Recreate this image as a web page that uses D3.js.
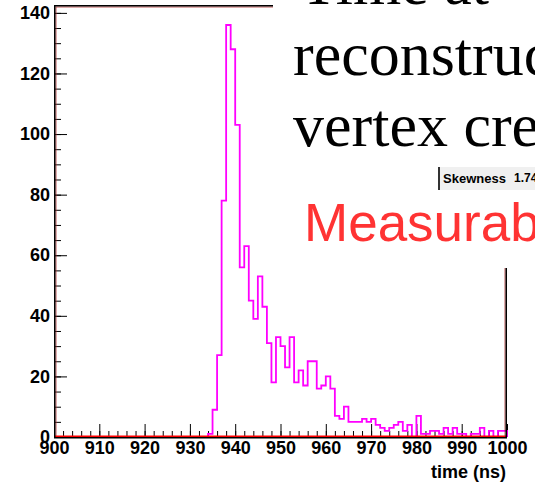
<html>
  <head>
    <script src="https://d3js.org/d3.v7.min.js"></script>
    <style>
      body { margin: 0; background: white; }
      svg { display: block; }
    </style>
  </head>
  <body>
    <script>
      // histogram: 1 ns bins from 900 to 1000, counts
      var binStart = 900;
      var binWidth = 1;
      var counts = [
        0,0,0,0,0,0,0,0,0,0,   // 900-909
        0,0,0,0,0,0,0,0,0,0,   // 910-919
        0,0,0,0,0,0,0,0,0,0,   // 920-929
        0,0,0,0,1,9,27,78,136,128,   // 930-939
        103,56,63,45,39,53,43,31,18,33,   // 940-949
        30,23,33,18,22,17,25,25,16,17,   // 950-959
        20,16,7,6,10,5,5,5,6,5,   // 960-969
        6,4,3,2,3,4,5,2,4,0,   // 970-979
        7,1,1,2,2,1,3,1,3,1,   // 980-989
        1,0,1,1,3,0,2,0,2,2    // 990-999
      ];
      var xMajorTicks = [900, 910, 920, 930, 940, 950, 960, 970, 980, 990, 1000];
      var yMajorTicks = [0, 20, 40, 60, 80, 100, 120, 140];
      var titleLines = ["Time at", "reconstructed", "vertex creation"];
      var statLabel = "Skewness";
      var statValue = "1.74";
      var noteText = "Measurable";

      var width = 535, height = 485;
      // frame edges (avoid the name "top", it is window.top)
      var fLeft = 54, fRight = 507, fTop = 5, fBottom = 437;

      var svg = d3.select("body").append("svg")
                  .attr("width", width).attr("height", height);

      var x = d3.scaleLinear().domain([900, 1000]).range([fLeft, fRight]);
      var y = d3.scaleLinear().domain([0, 142.6]).range([fBottom, fTop]);

      //Minor ticks
      var xMinor = d3.range(900, 1001, 2);
      var yMinor = d3.range(0, 141, 5);

      svg.append("g").attr("transform", "translate(0," + fBottom + ")")
         .call(d3.axisBottom(x).tickValues(xMinor).tickSize(-6).tickFormat(""))
         .call(function(g) { g.select(".domain").remove(); });
      svg.append("g").attr("transform", "translate(" + fLeft + ",0)")
         .call(d3.axisLeft(y).tickValues(yMinor).tickSize(-7).tickFormat(""))
         .call(function(g) { g.select(".domain").remove(); });

      //Major ticks with labels
      var xAxis = svg.append("g").attr("transform", "translate(0," + fBottom + ")")
         .call(d3.axisBottom(x).tickValues(xMajorTicks).tickSize(-13).tickPadding(4).tickFormat(d3.format("d")));
      var yAxis = svg.append("g").attr("transform", "translate(" + fLeft + ",0)")
         .call(d3.axisLeft(y).tickValues(yMajorTicks).tickSize(-13).tickPadding(4).tickFormat(d3.format("d")));

      [xAxis, yAxis].forEach(function(g) {
        g.select(".domain").remove();
        g.selectAll("text")
         .attr("font-family", "Liberation Sans, Arial, sans-serif")
         .attr("font-weight", "bold")
         .attr("font-size", "18px")
         .attr("fill", "black");
      });
      svg.selectAll(".tick line").attr("stroke", "black").attr("stroke-width", 1);

      //Histogram outline
      var pts = [[x(binStart), y(0)]];
      counts.forEach(function(c, i) {
        var x0 = x(binStart + i * binWidth), x1 = x(binStart + (i + 1) * binWidth);
        pts.push([x0, y(c)]);
        pts.push([x1, y(c)]);
      });
      pts.push([x(binStart + counts.length * binWidth), y(0)]);

      svg.append("path")
         .attr("d", d3.line()(pts))
         .attr("fill", "none")
         .attr("stroke", "#ff00ff")
         .attr("stroke-width", 1.8);

      //Frame: black outline, thin dark red line just inside, red baseline
      svg.append("rect")
         .attr("x", fLeft + 2).attr("y", fTop + 2)
         .attr("width", fRight - fLeft - 4).attr("height", fBottom - fTop - 2)
         .attr("fill", "none").attr("stroke", "#b03030").attr("stroke-width", 0.8);
      svg.append("line")
         .attr("x1", fLeft).attr("x2", fRight).attr("y1", fBottom - 0.5).attr("y2", fBottom - 0.5)
         .attr("stroke", "red").attr("stroke-width", 2);
      svg.append("rect")
         .attr("x", fLeft + 0.75).attr("y", fTop + 0.75)
         .attr("width", fRight - fLeft - 1.5).attr("height", fBottom - fTop)
         .attr("fill", "none").attr("stroke", "black").attr("stroke-width", 1.5);

      //Title pave covers the top right corner of the frame
      svg.append("rect")
         .attr("x", 273).attr("y", 0).attr("width", width - 273).attr("height", 268)
         .attr("fill", "white");

      var title = svg.append("text")
         .attr("font-family", "Liberation Serif, Times New Roman, serif")
         .attr("font-size", "62px")
         .attr("fill", "black");
      title.selectAll("tspan").data(titleLines).enter().append("tspan")
         .attr("x", function(d, i) { return i == 0 ? 300 : 293; })
         .attr("y", function(d, i) { return 4 + i * 71; })
         .text(function(d) { return d; });

      //Stats box
      svg.append("rect")
         .attr("x", 439).attr("y", 167).attr("width", 100).attr("height", 23)
         .attr("fill", "#f0f0f0");
      svg.append("line")
         .attr("x1", 439).attr("x2", 439).attr("y1", 167).attr("y2", 190)
         .attr("stroke", "#333").attr("stroke-width", 2);
      svg.append("text")
         .attr("x", 443).attr("y", 183)
         .attr("font-family", "Liberation Sans, Arial, sans-serif")
         .attr("font-weight", "bold").attr("font-size", "13px")
         .text(statLabel);
      svg.append("text")
         .attr("x", 514).attr("y", 182)
         .attr("font-family", "Liberation Sans, Arial, sans-serif")
         .attr("font-weight", "bold").attr("font-size", "12px")
         .text(statValue);

      svg.append("text")
         .attr("x", 304).attr("y", 241)
         .attr("font-family", "Liberation Sans, Arial, sans-serif")
         .attr("font-size", "53px")
         .attr("fill", "#ff3333")
         .text(noteText);

      //Axis title
      svg.append("text")
         .attr("x", 506).attr("y", 478)
         .attr("text-anchor", "end")
         .attr("font-family", "Liberation Sans, Arial, sans-serif")
         .attr("font-weight", "bold").attr("font-size", "18px")
         .text("time (ns)");
    </script>
  </body>
</html>
